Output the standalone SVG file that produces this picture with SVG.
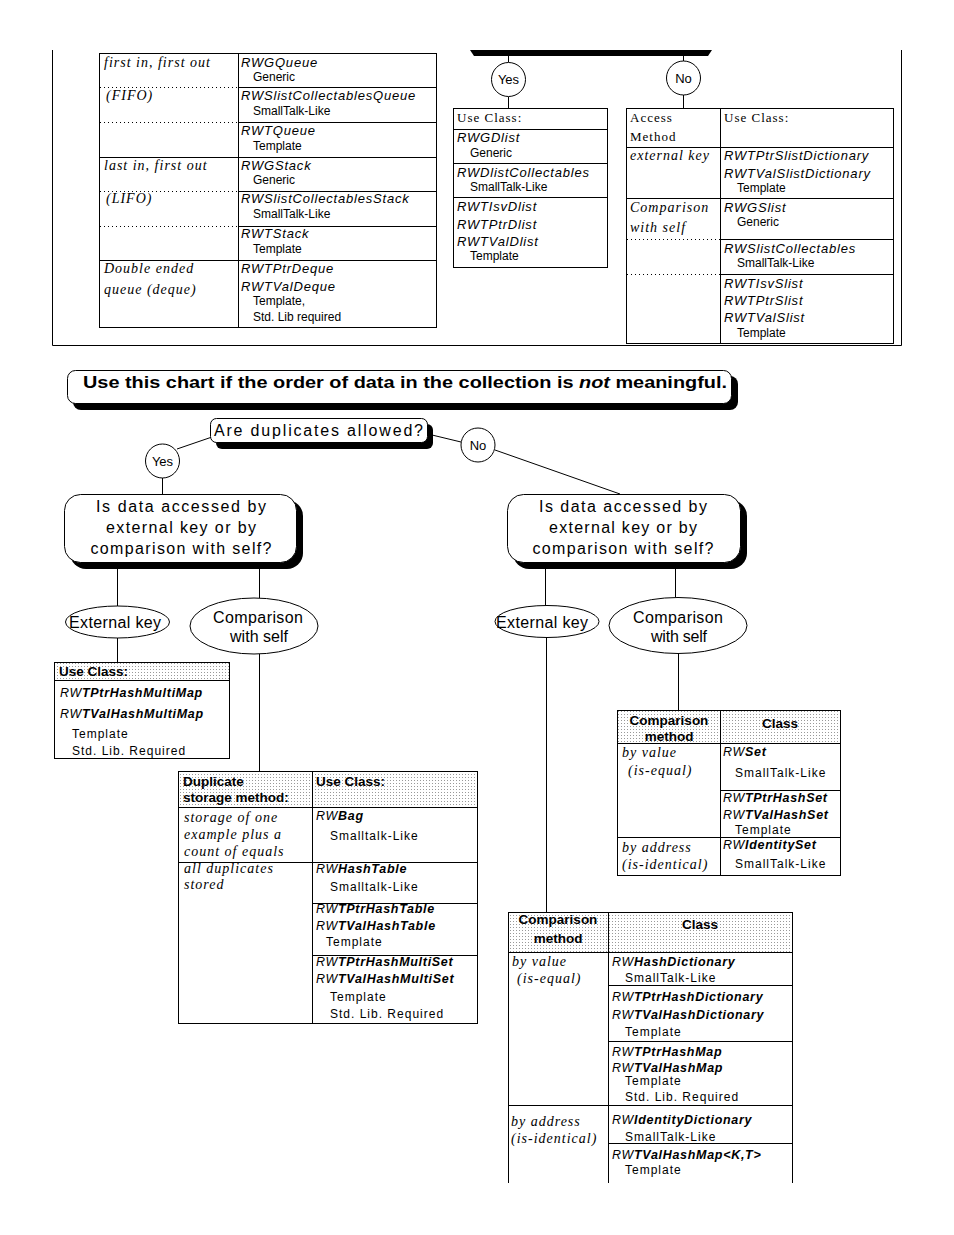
<svg xmlns="http://www.w3.org/2000/svg" width="954" height="1235" viewBox="0 0 954 1235">
<style>
.ln{stroke:#000;stroke-width:1;fill:none}
.dt{stroke:#000;stroke-width:1;stroke-dasharray:1 3;fill:none}
.box{fill:#fff;stroke:#000;stroke-width:1}
.sh{fill:#000}
.hd{fill:url(#stip);stroke:#000;stroke-width:1}
.si{font-family:"Liberation Sans",Arial,sans-serif;font-style:italic;font-size:13px;letter-spacing:0.8px}
.sub{font-family:"Liberation Sans",Arial,sans-serif;font-size:12px}
.sr{font-family:"Liberation Serif","Times New Roman",serif;font-style:italic;font-size:14px;letter-spacing:1px}
.srn{font-family:"Liberation Serif","Times New Roman",serif;font-size:13px;letter-spacing:1px}
.q{font-family:"Liberation Sans",Arial,sans-serif;font-size:16px}
.cl{font-family:"Liberation Sans",Arial,sans-serif;font-size:13px}
.hb{font-family:"Liberation Sans",Arial,sans-serif;font-weight:bold;font-size:13.5px}
.c{font-family:"Liberation Sans",Arial,sans-serif;font-style:italic;font-size:12.5px;letter-spacing:0.7px}
.b{font-weight:bold}
.s2{font-family:"Liberation Sans",Arial,sans-serif;font-size:12px;letter-spacing:1px}
.ms{text-anchor:middle}
</style>
<defs>
<pattern id="stip" width="3" height="3" patternUnits="userSpaceOnUse"><rect width="3" height="3" fill="#fff"/><rect width="1" height="1" fill="#999"/></pattern>
<clipPath id="cut"><rect x="0" y="0" width="954" height="1183"/></clipPath>
</defs>
<rect width="954" height="1235" fill="#fff"/>

<g id="top-frame">
<path class="ln" d="M52.5 50V345.5H901.5V50"/>
<polygon points="470,50 712,50 708,56 474,56" fill="#000"/>
</g>

<g id="connectors">
<path class="ln" d="M508.5 56V62M508.5 97V108M683.5 56V61M683.5 95V108"/>
<path class="ln" d="M177 449L212 437M162.5 478V494M432 435L461 442M495 450L620 494"/>
<path class="ln" d="M117.5 568V606M259.5 568V598M117.5 638V662M259.5 654V771"/>
<path class="ln" d="M545.5 568V605M675.5 568V597M546.5 637V912M678.5 653V711"/>
</g>

<g id="fifo-table">
<rect class="box" x="99.5" y="53.5" width="337" height="274"/>
<path class="ln" d="M238.5 53V327M238 87.5H436M238 122.5H436M99 157.5H436M238 191.5H436M238 226.5H436M99 260.5H436"/>
<path class="dt" d="M100 87.5H238M100 122.5H238M100 191.5H238M100 226.5H238"/>
<text class="sr" x="104" y="67">first in, first out</text>
<text class="sr" x="106" y="100">(FIFO)</text>
<text class="sr" x="104" y="170">last in, first out</text>
<text class="sr" x="106" y="203">(LIFO)</text>
<text class="sr" x="104" y="273">Double ended</text>
<text class="sr" x="104" y="294">queue (deque)</text>
<text class="si" x="241" y="67">RWGQueue</text>
<text class="sub" x="253" y="81">Generic</text>
<text class="si" x="241" y="100">RWSlistCollectablesQueue</text>
<text class="sub" x="253" y="115">SmallTalk-Like</text>
<text class="si" x="241" y="135">RWTQueue</text>
<text class="sub" x="253" y="150">Template</text>
<text class="si" x="241" y="170">RWGStack</text>
<text class="sub" x="253" y="184">Generic</text>
<text class="si" x="241" y="203">RWSlistCollectablesStack</text>
<text class="sub" x="253" y="218">SmallTalk-Like</text>
<text class="si" x="241" y="238">RWTStack</text>
<text class="sub" x="253" y="253">Template</text>
<text class="si" x="241" y="273">RWTPtrDeque</text>
<text class="si" x="241" y="291">RWTValDeque</text>
<text class="sub" x="253" y="305">Template,</text>
<text class="sub" x="253" y="321">Std. Lib required</text>
</g>

<g id="yes-top">
<circle class="box" cx="508.5" cy="79.5" r="17"/>
<text class="cl ms" x="508.5" y="84">Yes</text>
</g>
<g id="no-top">
<circle class="box" cx="683.5" cy="78" r="17"/>
<text class="cl ms" x="683.5" y="82.5">No</text>
</g>

<g id="dlist-table">
<rect class="box" x="453.5" y="108.5" width="154" height="159"/>
<path class="ln" d="M453 129.5H607M453 163.5H607M453 197.5H607"/>
<text class="srn" x="457" y="122">Use Class:</text>
<text class="si" x="457" y="142">RWGDlist</text>
<text class="sub" x="470" y="157">Generic</text>
<text class="si" x="457" y="177">RWDlistCollectables</text>
<text class="sub" x="470" y="191">SmallTalk-Like</text>
<text class="si" x="457" y="211">RWTIsvDlist</text>
<text class="si" x="457" y="229">RWTPtrDlist</text>
<text class="si" x="457" y="246">RWTValDlist</text>
<text class="sub" x="470" y="260">Template</text>
</g>

<g id="slist-table">
<rect class="box" x="626.5" y="108.5" width="267" height="235"/>
<path class="ln" d="M720.5 108V343M626 147.5H893M626 198.5H893M720 239.5H893M720 274.5H893"/>
<path class="dt" d="M627 239.5H720M627 274.5H720"/>
<text class="srn" x="630" y="122">Access</text>
<text class="srn" x="630" y="141">Method</text>
<text class="srn" x="724" y="122">Use Class:</text>
<text class="sr" x="630" y="160">external key</text>
<text class="sr" x="630" y="212">Comparison</text>
<text class="sr" x="630" y="232">with self</text>
<text class="si" x="724" y="160">RWTPtrSlistDictionary</text>
<text class="si" x="724" y="178">RWTValSlistDictionary</text>
<text class="sub" x="737" y="192">Template</text>
<text class="si" x="724" y="212">RWGSlist</text>
<text class="sub" x="737" y="226">Generic</text>
<text class="si" x="724" y="253">RWSlistCollectables</text>
<text class="sub" x="737" y="267">SmallTalk-Like</text>
<text class="si" x="724" y="288">RWTIsvSlist</text>
<text class="si" x="724" y="305">RWTPtrSlist</text>
<text class="si" x="724" y="322">RWTValSlist</text>
<text class="sub" x="737" y="337">Template</text>
</g>

<g id="banner">
<rect class="sh" x="73" y="376" width="665" height="34" rx="8"/>
<rect class="box" x="67.5" y="370.5" width="664" height="33" rx="8"/>
<text x="83" y="388" font-family="Liberation Sans, Arial, sans-serif" font-size="16" font-weight="bold" textLength="644" lengthAdjust="spacingAndGlyphs">Use this chart if the order of data in the collection is <tspan font-style="italic">not</tspan> meaningful.</text>
</g>

<g id="q-duplicates">
<rect class="sh" x="216" y="424" width="217" height="25" rx="6"/>
<rect class="box" x="210.5" y="418.5" width="217" height="24" rx="6"/>
<text class="q" x="214" y="436" textLength="209" lengthAdjust="spacing">Are duplicates allowed?</text>
</g>

<g id="yes">
<circle class="box" cx="162.5" cy="461" r="17"/>
<text class="cl ms" x="162.5" y="466">Yes</text>
</g>
<g id="no">
<circle class="box" cx="478" cy="445" r="17"/>
<text class="cl ms" x="478" y="450">No</text>
</g>

<g id="q-access-left">
<rect class="sh" x="70" y="500" width="233" height="69" rx="16"/>
<rect class="box" x="64.5" y="494.5" width="232" height="68" rx="16"/>
<text class="q ms" x="181" y="512" textLength="170" lengthAdjust="spacing">Is data accessed by</text>
<text class="q ms" x="181" y="533" textLength="150" lengthAdjust="spacing">external key or by</text>
<text class="q ms" x="181" y="554" textLength="181" lengthAdjust="spacing">comparison with self?</text>
</g>

<g id="q-access-right">
<rect class="sh" x="513" y="500" width="234" height="69" rx="16"/>
<rect class="box" x="507.5" y="494.5" width="233" height="68" rx="16"/>
<text class="q ms" x="623" y="512" textLength="168" lengthAdjust="spacing">Is data accessed by</text>
<text class="q ms" x="623" y="533" textLength="148" lengthAdjust="spacing">external key or by</text>
<text class="q ms" x="623" y="554" textLength="181" lengthAdjust="spacing">comparison with self?</text>
</g>

<g id="ext-left">
<ellipse class="box" cx="117.5" cy="622" rx="52" ry="16"/>
<text class="q ms" x="115" y="628" textLength="92" lengthAdjust="spacing">External key</text>
</g>
<g id="cmp-left">
<ellipse class="box" cx="254" cy="626" rx="64" ry="28"/>
<text class="q ms" x="258" y="623" textLength="90" lengthAdjust="spacing">Comparison</text>
<text class="q ms" x="259" y="642" textLength="58" lengthAdjust="spacing">with self</text>
</g>
<g id="ext-right">
<ellipse class="box" cx="547" cy="621.5" rx="52" ry="16"/>
<text class="q ms" x="542" y="628" textLength="92" lengthAdjust="spacing">External key</text>
</g>
<g id="cmp-right">
<ellipse class="box" cx="678" cy="625.5" rx="69" ry="28"/>
<text class="q ms" x="678" y="623" textLength="90" lengthAdjust="spacing">Comparison</text>
<text class="q ms" x="679" y="642" textLength="56" lengthAdjust="spacing">with self</text>
</g>

<g id="multimap-table">
<rect class="box" x="54.5" y="662.5" width="175" height="96"/>
<rect class="hd" x="54.5" y="662.5" width="175" height="18"/>
<text class="hb" x="59" y="676">Use Class:</text>
<text class="c" x="60" y="697">RW<tspan class="b">TPtrHashMultiMap</tspan></text>
<text class="c" x="60" y="718">RW<tspan class="b">TValHashMultiMap</tspan></text>
<text class="s2" x="72" y="738">Template</text>
<text class="s2" x="72" y="755">Std. Lib. Required</text>
</g>

<g id="duplicate-table">
<rect class="box" x="178.5" y="771.5" width="299" height="252"/>
<rect class="hd" x="178.5" y="771.5" width="299" height="36"/>
<path class="ln" d="M312.5 771V1023M178 862.5H477M312 903.5H477M312 955.5H477"/>
<text class="hb" x="183" y="786">Duplicate</text>
<text class="hb" x="183" y="802">storage method:</text>
<text class="hb" x="316" y="786">Use Class:</text>
<text class="sr" x="184" y="822">storage of one</text>
<text class="sr" x="184" y="839">example plus a</text>
<text class="sr" x="184" y="856">count of equals</text>
<text class="sr" x="184" y="873">all duplicates</text>
<text class="sr" x="184" y="889">stored</text>
<text class="c" x="316" y="820">RW<tspan class="b">Bag</tspan></text>
<text class="s2" x="330" y="840">Smalltalk-Like</text>
<text class="c" x="316" y="873">RW<tspan class="b">HashTable</tspan></text>
<text class="s2" x="330" y="891">Smalltalk-Like</text>
<text class="c" x="316" y="913">RW<tspan class="b">TPtrHashTable</tspan></text>
<text class="c" x="316" y="930">RW<tspan class="b">TValHashTable</tspan></text>
<text class="s2" x="326" y="946">Template</text>
<text class="c" x="316" y="966">RW<tspan class="b">TPtrHashMultiSet</tspan></text>
<text class="c" x="316" y="983">RW<tspan class="b">TValHashMultiSet</tspan></text>
<text class="s2" x="330" y="1001">Template</text>
<text class="s2" x="330" y="1018">Std. Lib. Required</text>
</g>

<g id="set-table">
<rect class="box" x="617.5" y="710.5" width="223" height="165"/>
<rect class="hd" x="617.5" y="710.5" width="223" height="33"/>
<path class="ln" d="M720.5 710V875M720 790.5H840M617 837.5H840"/>
<text class="hb ms" x="669" y="725">Comparison</text>
<text class="hb ms" x="669" y="741">method</text>
<text class="hb ms" x="780" y="728">Class</text>
<text class="sr" x="622" y="757">by value</text>
<text class="sr" x="628" y="775">(is-equal)</text>
<text class="sr" x="622" y="852">by address</text>
<text class="sr" x="622" y="869">(is-identical)</text>
<text class="c" x="723" y="756">RW<tspan class="b">Set</tspan></text>
<text class="s2" x="735" y="777">SmallTalk-Like</text>
<text class="c" x="723" y="802">RW<tspan class="b">TPtrHashSet</tspan></text>
<text class="c" x="723" y="819">RW<tspan class="b">TValHashSet</tspan></text>
<text class="s2" x="735" y="834">Template</text>
<text class="c" x="723" y="849">RW<tspan class="b">IdentitySet</tspan></text>
<text class="s2" x="735" y="868">SmallTalk-Like</text>
</g>

<g id="dictionary-table" clip-path="url(#cut)">
<path class="box" d="M508.5 1183V912.5H792.5V1183"/>
<rect class="hd" x="508.5" y="912.5" width="284" height="40"/>
<path class="ln" d="M608.5 912V1183M608 985.5H792M608 1041.5H792M508 1105.5H792M608 1143.5H792"/>
<text class="hb ms" x="558" y="924">Comparison</text>
<text class="hb ms" x="558" y="943">method</text>
<text class="hb ms" x="700" y="929">Class</text>
<text class="sr" x="512" y="966">by value</text>
<text class="sr" x="517" y="983">(is-equal)</text>
<text class="sr" x="511" y="1126">by address</text>
<text class="sr" x="511" y="1143">(is-identical)</text>
<text class="c" x="612" y="966">RW<tspan class="b">HashDictionary</tspan></text>
<text class="s2" x="625" y="982">SmallTalk-Like</text>
<text class="c" x="612" y="1001">RW<tspan class="b">TPtrHashDictionary</tspan></text>
<text class="c" x="612" y="1019">RW<tspan class="b">TValHashDictionary</tspan></text>
<text class="s2" x="625" y="1036">Template</text>
<text class="c" x="612" y="1056">RW<tspan class="b">TPtrHashMap</tspan></text>
<text class="c" x="612" y="1072">RW<tspan class="b">TValHashMap</tspan></text>
<text class="s2" x="625" y="1085">Template</text>
<text class="s2" x="625" y="1101">Std. Lib. Required</text>
<text class="c" x="612" y="1124">RW<tspan class="b">IdentityDictionary</tspan></text>
<text class="s2" x="625" y="1141">SmallTalk-Like</text>
<text class="c" x="612" y="1159">RW<tspan class="b">TValHashMap&lt;K,T&gt;</tspan></text>
<text class="s2" x="625" y="1174">Template</text>
</g>
</svg>
